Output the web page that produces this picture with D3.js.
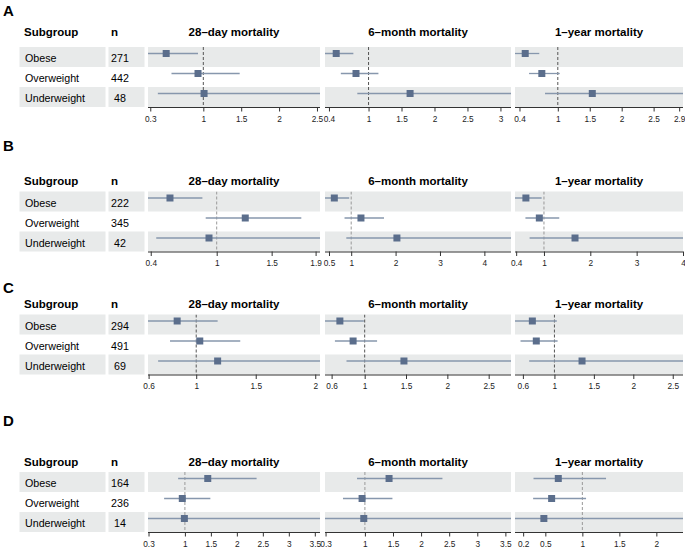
<!DOCTYPE html>
<html>
<head>
<meta charset="utf-8">
<script src="https://cdn.jsdelivr.net/npm/d3@7"></script>
<style>
  body { margin: 0; background: #fff; }
  text { font-family: "Liberation Sans", Arial, Helvetica, sans-serif; }
</style>
</head>
<body>
<svg id="chart"></svg>
<script>
const panels = ["A", "B", "C", "D"];
const subgroups = ["Obese", "Overweight", "Underweight"];
const outcomes = ["28–day mortality", "6–month mortality", "1–year mortality"];
const nLabels = [
	["271", "442", " 48"],
	["222", "345", " 42"],
	["294", "491", " 69"],
	["164", "236", " 14"]
];

// hazard ratio per panel -> outcome -> subgroup
const hr = [
	[[0.51, 0.93, 1.01], [0.51, 0.81, 1.63], [0.49, 0.75, 1.54]],
	[[0.575, 1.26, 0.93], [0.62, 1.22, 2.03], [0.61, 0.9, 1.67]],
	[[0.84, 1.03, 1.18], [0.7, 0.86, 1.475], [0.72, 0.77, 1.35]],
	[[1.44, 0.95, 0.99], [1.43, 0.95, 0.98], [0.675, 0.585, 0.48]]
];
const lower = [
	[[0.2, 0.58, 0.4], [0.25, 0.58, 0.83], [0.25, 0.55, 0.8]],
	[[0.3, 0.9, 0.45], [0.35, 0.85, 0.89], [0.35, 0.6, 0.69]],
	[[0.59, 0.78, 0.68], [0.45, 0.64, 0.78], [0.45, 0.57, 0.68]],
	[[0.87, 0.6, 0.15], [0.86, 0.61, 0.15], [0.34, 0.335, 0.05]]
];
const upper = [
	[[0.93, 1.48, 2.8], [0.77, 1.15, 3.5], [0.71, 1.03, 3.2]],
	[[0.87, 1.77, 2.1], [0.955, 1.74, 5.0], [0.95, 1.33, 4.5]],
	[[1.18, 1.37, 2.2], [0.99, 1.15, 3.0], [1.03, 1.04, 3.0]],
	[[2.38, 1.49, 4.5], [2.38, 1.49, 4.5], [1.32, 1.05, 3.0]]
];
const xlims = [
	[[0.27, 2.54], [0.34, 3.16], [0.33, 2.96]],
	[[0.375, 1.94], [0.41, 4.6], [0.375, 4.0]],
	[[0.595, 2.04], [0.52, 2.77], [0.5, 2.63]],
	[[0.29, 3.6], [0.29, 3.6], [0.09, 2.36]]
];
const tickValues = [
	[[0.3, 1, 1.5, 2, 2.5], [0.4, 1, 1.5, 2, 2.5, 3], [0.4, 1, 1.5, 2, 2.5, 2.9]],
	[[0.4, 1, 1.5, 1.9], [0.5, 1, 2, 3, 4], [0.4, 1, 2, 3, 4]],
	[[0.6, 1, 1.5, 2], [0.6, 1, 1.5, 2, 2.5], [0.6, 1, 1.5, 2, 2.5]],
	[[0.3, 1, 1.5, 2, 2.5, 3, 3.5], [0.3, 1, 1.5, 2, 2.5, 3, 3.5], [0.2, 0.5, 1, 1.5, 2]]
];

// layout
const W = 685, H = 551;
const letterY = [10, 145, 287, 420];
const headerY = [31.5, 180.5, 304, 461.5];
const bandTop = [47, 191.5, 314.5, 472];
const rowH = 20;
const subCol = [19.5, 105.5];
const nCol = [108.5, 144.5];
const plotCols = [[148, 320], [325, 511], [515, 683]];

const bandFill = "#e8eaea";
const boxColor = "#5b6e8c";
const ciColor = "#8797ad";
const refColor = ["#555", "#999", "#555", "#999"];

const svg = d3.select("#chart").attr("width", W).attr("height", H);
const defs = svg.append("defs");

panels.forEach((letter, p) => {
	const g = svg.append("g").attr("class", `panel panel-${letter}`);
	const top = bandTop[p];
	const y = d3.scaleBand().domain(subgroups).range([top, top + rowH * 3]);
	const axisY = top + rowH * 3;

	g.append("text")
		.attr("x", 3)
		.attr("y", letterY[p])
		.attr("dominant-baseline", "central")
		.attr("font-size", 15)
		.attr("font-weight", "bold")
		.text(letter);

	g.append("text")
		.attr("x", 24)
		.attr("y", headerY[p])
		.attr("dominant-baseline", "central")
		.attr("font-size", 11.5)
		.attr("font-weight", "bold")
		.text("Subgroup");

	g.append("text")
		.attr("x", 111)
		.attr("y", headerY[p])
		.attr("dominant-baseline", "central")
		.attr("font-size", 11.5)
		.attr("font-weight", "bold")
		.text("n");

	// shaded rows (Obese and Underweight)
	const shaded = subgroups.filter((d, i) => i % 2 === 0);
	const cols = [subCol, nCol].concat(plotCols);
	cols.forEach(c => {
		g.selectAll(null)
			.data(shaded)
			.enter()
			.append("rect")
			.attr("x", c[0])
			.attr("y", d => y(d))
			.attr("width", c[1] - c[0])
			.attr("height", y.bandwidth())
			.attr("fill", bandFill);
	});

	g.selectAll(".sub")
		.data(subgroups)
		.enter()
		.append("text")
		.attr("class", "sub")
		.attr("x", 25)
		.attr("y", d => y(d) + y.bandwidth() / 2 + 1)
		.attr("dominant-baseline", "central")
		.attr("font-size", 10.7)
		.text(d => d);

	g.selectAll(".nval")
		.data(nLabels[p])
		.enter()
		.append("text")
		.attr("class", "nval")
		.attr("x", 111)
		.attr("y", (d, i) => y(subgroups[i]) + y.bandwidth() / 2 + 1)
		.attr("dominant-baseline", "central")
		.attr("font-size", 10.7)
		.style("white-space", "pre")
		.text(d => d);

	outcomes.forEach((title, o) => {
		const [x0, x1] = plotCols[o];
		const x = d3.scaleLinear().domain(xlims[p][o]).range([x0, x1]);
		const clipId = `clip-${p}-${o}`;
		defs.append("clipPath")
			.attr("id", clipId)
			.append("rect")
			.attr("x", x0)
			.attr("y", top)
			.attr("width", x1 - x0)
			.attr("height", rowH * 3);

		g.append("text")
			.attr("x", (x0 + x1) / 2)
			.attr("y", headerY[p])
			.attr("text-anchor", "middle")
			.attr("dominant-baseline", "central")
			.attr("font-size", 11.5)
			.attr("font-weight", "bold")
			.text(title);

		const plot = g.append("g").attr("clip-path", `url(#${clipId})`);

		plot.append("line")
			.attr("x1", x(1))
			.attr("x2", x(1))
			.attr("y1", top)
			.attr("y2", axisY)
			.attr("stroke", refColor[p])
			.attr("stroke-width", 1)
			.attr("stroke-dasharray", "3,2");

		const rows = subgroups.map((s, i) => ({
			s,
			est: hr[p][o][i],
			lo: lower[p][o][i],
			hi: upper[p][o][i]
		}));
		const cy = d => y(d.s) + y.bandwidth() / 2 - 3.5;

		plot.selectAll(".ci")
			.data(rows)
			.enter()
			.append("line")
			.attr("class", "ci")
			.attr("x1", d => x(d.lo))
			.attr("x2", d => x(d.hi))
			.attr("y1", cy)
			.attr("y2", cy)
			.attr("stroke", ciColor)
			.attr("stroke-width", 1.3);

		plot.selectAll(".box")
			.data(rows)
			.enter()
			.append("rect")
			.attr("class", "box")
			.attr("x", d => x(d.est) - 3.5)
			.attr("y", d => cy(d) - 3.5)
			.attr("width", 7)
			.attr("height", 7)
			.attr("fill", boxColor);

		const axis = d3.axisBottom(x)
			.tickValues(tickValues[p][o])
			.tickFormat(d3.format("~g"))
			.tickSize(4.5)
			.tickSizeOuter(0);

		const ax = g.append("g")
			.attr("transform", `translate(0, ${axisY})`)
			.call(axis);
		ax.select(".domain").attr("stroke", "#333").attr("d", `M${x0},0.5H${x1}`);
		ax.selectAll(".tick line").attr("stroke", "#333");
		ax.selectAll(".tick text")
			.attr("font-family", "Liberation Sans, Arial, sans-serif")
			.attr("font-size", 8.3)
			.attr("fill", "#222")
			.attr("dy", "0.71em")
			.attr("y", 9);
	});
});
</script>
</body>
</html>
